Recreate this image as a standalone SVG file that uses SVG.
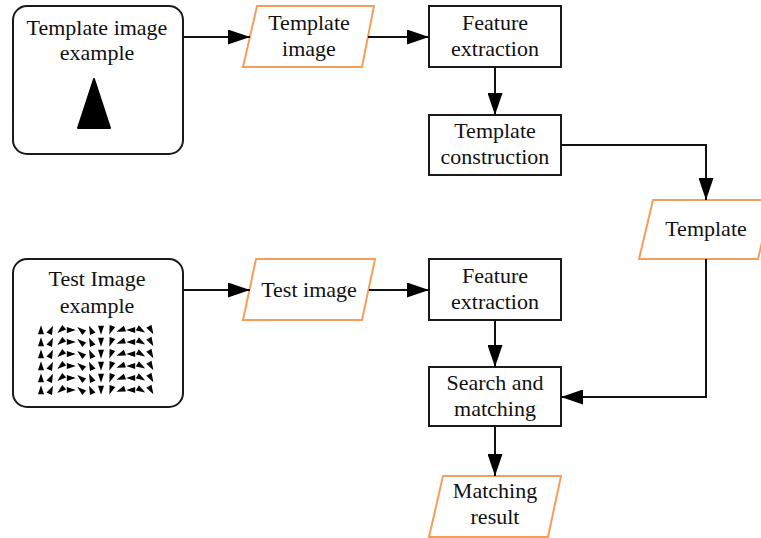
<svg xmlns="http://www.w3.org/2000/svg" xmlns:xlink="http://www.w3.org/1999/xlink" width="761" height="538" viewBox="0 0 761 538" font-family="'Liberation Serif', 'Times New Roman', serif">
  <style>
    .box { fill: #ffffff; stroke: #1a1a1a; stroke-width: 2; }
    .io { fill: #ffffff; stroke: #f59e5b; stroke-width: 2; }
    .lbl { font-family: "Liberation Serif", "Times New Roman", serif; font-size: 22px; fill: #111111; text-anchor: middle; }
    .edge { fill: none; stroke: #111111; stroke-width: 2; marker-end: url(#arrow); }
  </style>
  <defs>
    <marker id="arrow" markerUnits="userSpaceOnUse" markerWidth="22" markerHeight="15" refX="22" refY="7.5" orient="auto">
      <path d="M0,0 L22,7.5 L0,15 Z" fill="#000000"/>
    </marker>
    <filter id="soft" x="-50%" y="-50%" width="200%" height="200%">
      <feGaussianBlur stdDeviation="0.45"/>
    </filter>
    <!-- small wedge used in the test pattern -->
    <polygon id="wedge" points="0,-4.8 3,4.2 -3,4.2" fill="#000000"/>
    <!-- one row of wedges at assorted orientations -->
    <g id="pattern-row">
      <use xlink:href="#wedge" transform="translate(41,0) rotate(0)"/>
      <use xlink:href="#wedge" transform="translate(51,0) rotate(25)"/>
      <use xlink:href="#wedge" transform="translate(61,0) rotate(230)"/>
      <use xlink:href="#wedge" transform="translate(71,0) rotate(90)"/>
      <use xlink:href="#wedge" transform="translate(81,0) rotate(-50)"/>
      <use xlink:href="#wedge" transform="translate(91,0) rotate(-25)"/>
      <use xlink:href="#wedge" transform="translate(101,0) rotate(180)"/>
      <use xlink:href="#wedge" transform="translate(111,0) rotate(200)"/>
      <use xlink:href="#wedge" transform="translate(121,0) rotate(-110)"/>
      <use xlink:href="#wedge" transform="translate(131,0) rotate(-90)"/>
      <use xlink:href="#wedge" transform="translate(141,0) rotate(120)"/>
      <use xlink:href="#wedge" transform="translate(151,0) rotate(150)"/>
    </g>
  </defs>

  <!-- Template image example -->
  <g id="template-example">
    <rect class="box" x="13" y="6" width="170" height="148" rx="14"/>
    <text class="lbl" x="97" y="35">Template image</text>
    <text class="lbl" x="97" y="60">example</text>
    <polygon points="94,79 110,128 78,128" fill="#000000" stroke="#000000" stroke-width="2" stroke-linejoin="round" filter="url(#soft)"/>
  </g>

  <!-- Template image (input) -->
  <g id="template-image">
    <polygon class="io" points="257,6 374,6 362,67 243,67"/>
    <text class="lbl" x="309" y="30">Template</text>
    <text class="lbl" x="309" y="56">image</text>
  </g>

  <!-- Feature extraction (template branch) -->
  <g id="feature-extraction-1">
    <rect class="box" x="429" y="6" width="132" height="61"/>
    <text class="lbl" x="495" y="30">Feature</text>
    <text class="lbl" x="495" y="56">extraction</text>
  </g>

  <!-- Template construction -->
  <g id="template-construction">
    <rect class="box" x="429" y="115" width="132" height="60"/>
    <text class="lbl" x="495" y="138">Template</text>
    <text class="lbl" x="495" y="164">construction</text>
  </g>

  <!-- Template (output) -->
  <g id="template">
    <polygon class="io" points="653,200 772,200 758,259 639,259"/>
    <text class="lbl" x="706" y="236">Template</text>
  </g>

  <!-- Test Image example -->
  <g id="test-example">
    <rect class="box" x="13" y="259" width="170" height="148" rx="14"/>
    <text class="lbl" x="97" y="286">Test Image</text>
    <text class="lbl" x="97" y="313">example</text>
    <g id="test-pattern" filter="url(#soft)">
      <use xlink:href="#pattern-row" transform="translate(0,330)"/>
      <use xlink:href="#pattern-row" transform="translate(0,342)"/>
      <use xlink:href="#pattern-row" transform="translate(0,354)"/>
      <use xlink:href="#pattern-row" transform="translate(0,366)"/>
      <use xlink:href="#pattern-row" transform="translate(0,378)"/>
      <use xlink:href="#pattern-row" transform="translate(0,390)"/>
    </g>
  </g>

  <!-- Test image (input) -->
  <g id="test-image">
    <polygon class="io" points="256,259 375,259 362,320 243,320"/>
    <text class="lbl" x="309" y="297">Test image</text>
  </g>

  <!-- Feature extraction (test branch) -->
  <g id="feature-extraction-2">
    <rect class="box" x="429" y="259" width="132" height="61"/>
    <text class="lbl" x="495" y="283">Feature</text>
    <text class="lbl" x="495" y="309">extraction</text>
  </g>

  <!-- Search and matching -->
  <g id="search-matching">
    <rect class="box" x="429" y="367" width="132" height="59"/>
    <text class="lbl" x="495" y="390">Search and</text>
    <text class="lbl" x="495" y="416">matching</text>
  </g>

  <!-- Matching result (output) -->
  <g id="matching-result">
    <polygon class="io" points="443,476 561,476 548,537 429,537"/>
    <text class="lbl" x="495" y="498">Matching</text>
    <text class="lbl" x="495" y="524">result</text>
  </g>

  <!-- Connectors -->
  <g id="connectors">
    <path class="edge" d="M183,37 L250,37"/>
    <path class="edge" d="M368,37 L429,37"/>
    <path class="edge" d="M495,67 L495,115"/>
    <path class="edge" d="M561,145 L706,145 L706,200"/>
    <path class="edge" d="M183,290 L250,290"/>
    <path class="edge" d="M369,290 L429,290"/>
    <path class="edge" d="M495,320 L495,367"/>
    <path class="edge" d="M706,259 L706,397 L561,397"/>
    <path class="edge" d="M495,426 L495,476"/>
  </g>
</svg>
